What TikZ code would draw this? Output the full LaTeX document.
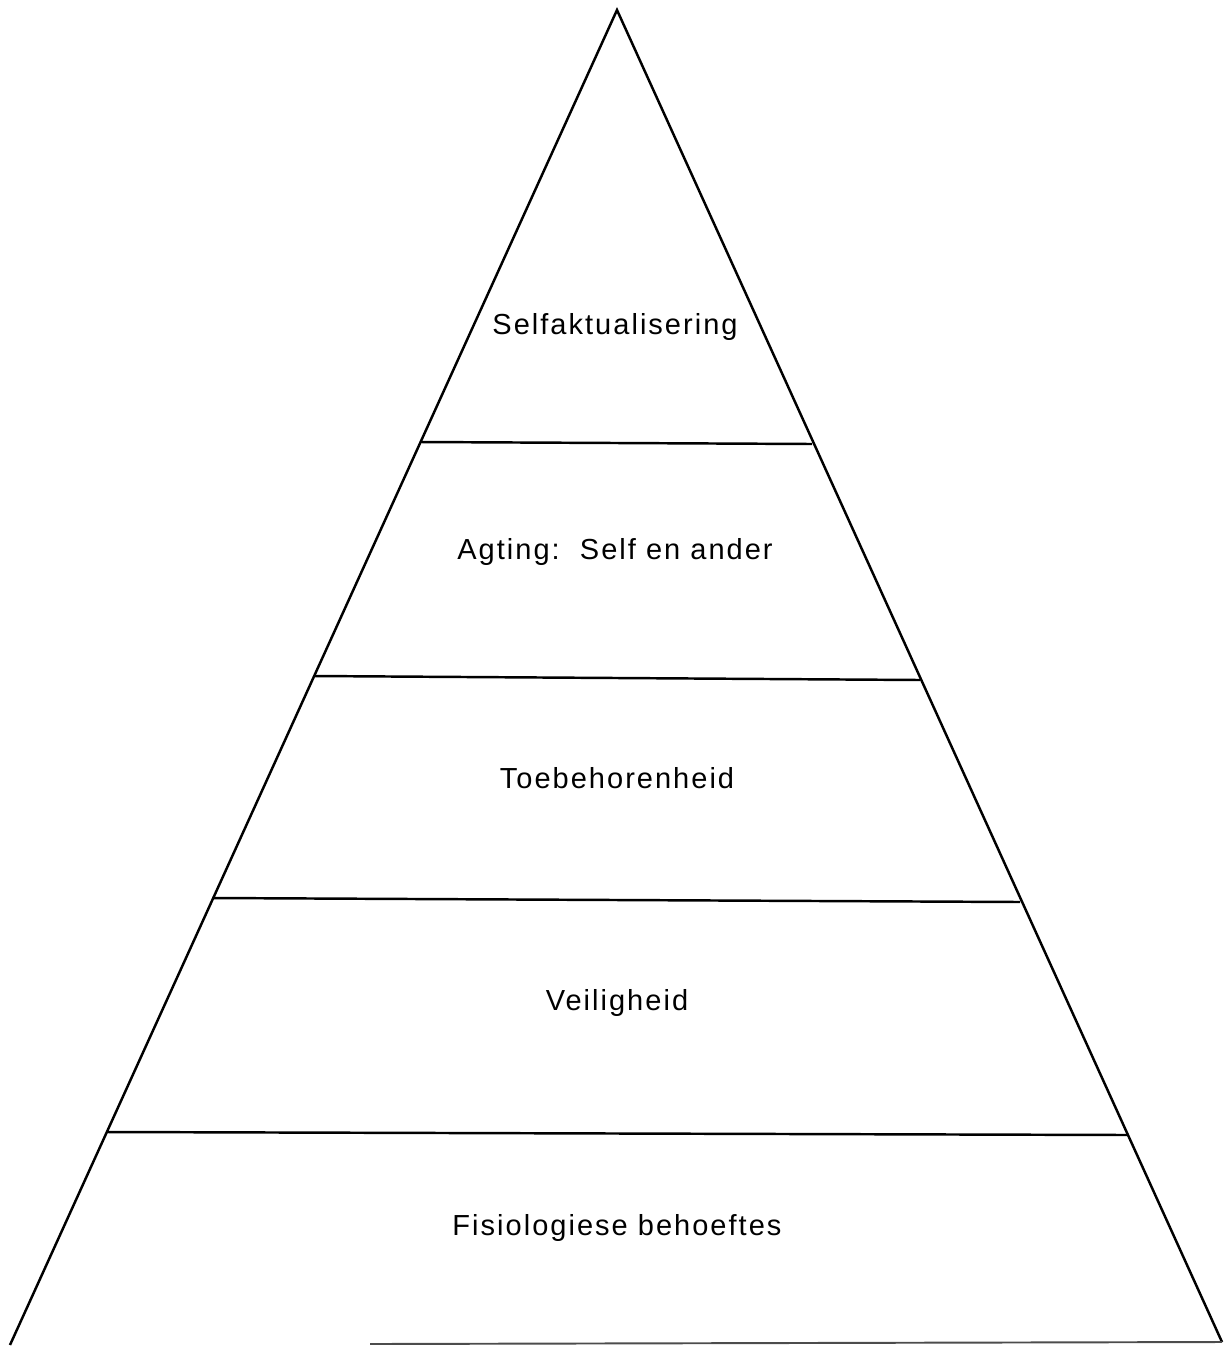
\documentclass[tikz,border=0pt]{standalone}
\usepackage{fontspec}
\setmainfont[LetterSpace=7]{Liberation Sans}
\tikzset{
  pyr/.style={line width=1.4pt,line join=miter},
  level/.style={font=\fontsize{16.5}{19}\selectfont,inner sep=0pt}
}
\begin{document}
\begin{tikzpicture}[x=0.02cm,y=-0.02cm]
  \useasboundingbox (0,0) rectangle (1225,1346);
  \coordinate (top) at (617,10);
  \coordinate (bl) at (10,1345);
  \coordinate (br) at (1222,1342);
  \coordinate (b0) at (370,1344);
  \draw[pyr] (bl) -- (top) -- (br);
  \draw[pyr,black!70,line width=1.1pt] (b0) -- (br);
  % layer boundaries
  \coordinate (l1) at (420,442);  \coordinate (r1) at (812,444);
  \coordinate (l2) at (314,676);  \coordinate (r2) at (920,680);
  \coordinate (l3) at (212,898);  \coordinate (r3) at (1020,902);
  \coordinate (l4) at (107,1132); \coordinate (r4) at (1128,1135);
  \foreach \i in {1,...,4}
    \draw[pyr] (l\i) -- (r\i);
  % labels
  \node[level] (self) at (615,327) {Selfaktualisering};
  \node[level] (agting) at (615,552) {Agting:\ \ Self en ander};
  \node[level] (toe) at (617,778) {Toebehorenheid};
  \node[level] (veilig) at (617,1003) {Veiligheid};
  \node[level] (fisio) at (617,1228) {Fisiologiese behoeftes};
\end{tikzpicture}
\end{document}
